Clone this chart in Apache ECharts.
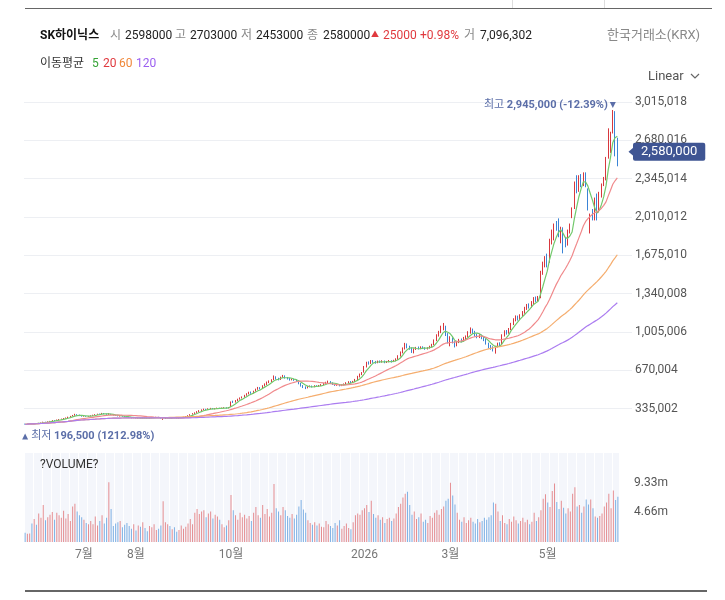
<!DOCTYPE html>
<html lang="ko">
<head>
<meta charset="utf-8">
<title>SK하이닉스</title>
<script src="https://cdn.jsdelivr.net/npm/echarts@6.0.0/dist/echarts.min.js"></script>
<style>
  html, body { margin: 0; padding: 0; background: #fff; }
  body { width: 725px; height: 600px; position: relative; overflow: hidden;
         font-family: Roboto, "Noto Sans CJK KR", sans-serif; }
  #chart { position: absolute; left: 0; top: 0; width: 725px; height: 600px; }
  .t { position: absolute; font-size: 12px; line-height: 18px; color: #222; white-space: nowrap; }
  .g { color: #888; }
  .b { font-weight: bold; color: #111; }
  .r { color: #e0393e; }
  .rule { position: absolute; background: #666; }
</style>
</head>
<body>
<div id="chart"></div>

<div class="rule" style="left:25px;top:8px;width:687px;height:1px"></div>
<div class="rule" style="left:512px;top:0;width:1px;height:8px;background:#ddd"></div>
<div class="rule" style="left:604px;top:0;width:1px;height:8px;background:#ddd"></div>
<div class="rule" style="left:25px;top:590px;width:682px;height:2px"></div>

<span class="t b" style="left:40px;top:26px">SK하이닉스</span>
<span class="t g" style="left:110px;top:26px">시</span><span class="t" style="left:125px;top:26px">2598000</span>
<span class="t g" style="left:175px;top:26px">고</span><span class="t" style="left:190px;top:26px">2703000</span>
<span class="t g" style="left:241px;top:26px">저</span><span class="t" style="left:256px;top:26px">2453000</span>
<span class="t g" style="left:307px;top:26px">종</span><span class="t" style="left:323px;top:26px">2580000</span>
<span class="t r" style="left:371px;top:26px;font-size:8px">▲</span>
<span class="t r" style="left:383px;top:26px">25000</span><span class="t r" style="left:420px;top:26px">+0.98%</span>
<span class="t g" style="left:464px;top:26px">거</span><span class="t" style="left:480px;top:26px">7,096,302</span>
<span class="t g" style="left:607px;top:26px;font-size:13px">한국거래소(KRX)</span>

<span class="t" style="left:40px;top:54px;color:#333">이동평균</span>
<span class="t" style="left:92px;top:54px;color:#35a335">5</span>
<span class="t" style="left:103px;top:54px;color:#e0393e">20</span>
<span class="t" style="left:119px;top:54px;color:#f0883a">60</span>
<span class="t" style="left:136px;top:54px;color:#9b5ff0">120</span>

<span class="t" style="left:648px;top:67px;color:#555;font-size:13px">Linear</span>
<svg style="position:absolute;left:690px;top:73px" width="10" height="7"><polyline points="1,1 5,5 9,1" fill="none" stroke="#666" stroke-width="1.2"/></svg>

<script>
// daily candles, thousand won: [open, close, low, high]
const candlesK = [
  // 2025-05
  [203,199,196.5,204],[199,201,197.5,203],[201,204,200,206],[204,202.5,201,206],[203,207,202,208],[207,206,204,209],[206,210,205.5,211],
  // 2025-06
  [210,213,208,214],[214,219,212,221],[219,217,215,221],[217,223,216,224],[223,226,221,228],[226,233,224,235],[233,231,228,236],[231,238,230,240],[238,242,235,244],[242,245,240,248],
  [245,251,243,253],[249,256,247,258],[256,262,253,265],[262,270,260,272],[270,276,267,280],[276,284,273,290],[284,279,276,287],[279,272,270,283],[272,268,265,275],
  // 2025-07
  [268,271,265,274],[271,266,264,273],[266,270,264,272],[270,274,268,277],[274,280,272,282],[280,284,277,287],[284,289,281,291],[289,287,284,292],[287,294,286,298],[294,290,287,297],
  [290,284,282,292],[284,289,281,295],[289,281,279,290],[281,278,275,284],[278,274,272,280],[274,270,267,277],[270,272,266,275],[272,267,265,274],[267,265,262,270],[265,262,259,268],
  [262,257,254,264],[257,253,250,259],[253,255,251,258],
  // 2025-08
  [255,251,249,257],[251,254,249,256],[254,252,250,256],[252,256,250,258],[256,253,251,258],[253,250,248,255],[250,254,249,256],[254,257,252,259],[257,259,255,262],[259,262,257,264],
  [262,258,256,264],[258,250,248,260],[242,247,237,251],[247,252,245,254],[252,255,250,257],[255,253,251,257],[253,256,251,258],[256,254,252,258],[254,252,250,256],[252,255,250,257],
  // 2025-09
  [255,258,253,260],[258,262,256,264],[262,268,260,270],[268,275,266,278],[275,285,273,287],[285,292,283,296],[292,300,289,303],[300,310,298,313],[310,318,306,322],[318,325,314,329],
  [325,330,321,335],[330,327,323,334],[327,334,325,338],[334,338,330,342],[338,333,330,341],[333,336,329,340],[336,340,333,344],[340,337,334,343],[337,341,334,345],[341,344,338,348],
  [344,340,336,347],[340,345,338,349],
  // 2025-10
  [350,395,348,398],[398,392,385,405],[392,405,388,410],[405,418,400,422],[418,428,414,433],[428,437,424,442],[437,452,432,456],[452,465,448,470],[465,478,460,483],[478,470,465,485],
  [470,488,468,492],[488,505,484,510],[505,518,500,525],[518,510,503,523],[510,535,508,540],[535,548,530,556],[548,565,542,572],[565,575,558,582],
  // 2025-11
  [575,585,568,592],[590,612,585,625],[612,598,590,618],[598,590,582,605],[590,610,586,615],[610,622,605,630],[622,605,598,626],[605,598,590,612],[598,588,580,603],[588,592,582,598],
  [592,585,578,596],[585,578,570,590],[578,555,548,582],[555,535,528,560],[535,525,515,541],[525,518,506,530],[518,528,512,533],[528,532,522,538],[532,526,520,537],[526,535,522,540],
  // 2025-12
  [535,530,525,540],[530,538,526,542],[538,545,533,550],[545,552,540,558],[552,565,548,570],[565,572,558,580],[572,560,555,576],[560,548,542,565],[548,540,534,552],[540,545,535,550],
  [545,536,530,549],[536,542,532,547],[542,550,538,555],[550,562,546,566],[562,570,556,575],[570,564,558,576],[564,572,560,578],[572,590,568,595],[590,615,586,622],[615,635,608,642],
  [635,648,628,655],
  // 2026-01
  [655,700,650,708],[700,738,695,745],[738,730,720,748],[730,752,726,760],[752,745,736,760],[745,738,728,752],[738,748,732,755],[748,742,735,756],[742,750,737,758],[750,740,732,756],
  [740,745,734,752],[745,752,740,760],[752,746,738,758],[746,755,742,762],[755,768,750,775],[768,795,762,802],[795,825,790,835],[825,860,818,870],[860,895,852,910],[895,872,862,905],
  [872,865,850,885],
  // 2026-02
  [865,845,822,870],[842,855,818,862],[855,868,848,875],[868,860,852,878],[860,872,855,880],[872,865,856,880],[865,858,850,872],[858,866,852,872],[866,878,860,885],[878,895,872,902],
  [895,930,890,940],[930,975,925,985],[975,1005,965,1015],[1005,1040,995,1060],[1040,1052,1020,1084],[1052,985,970,1060],[985,930,905,995],
  // 2026-03
  [920,950,880,968],[950,915,905,958],[915,890,870,925],[890,918,880,928],[918,935,908,945],[935,928,915,948],[928,952,920,962],[952,965,940,975],[965,1002,958,1012],[1002,1025,990,1045],
  [1025,1005,990,1035],[1005,980,965,1015],[980,962,950,990],[962,975,952,985],[975,955,942,982],[955,940,925,962],[940,905,895,948],[905,880,862,912],[880,872,850,892],[872,858,835,880],
  [858,878,816,884],
  // 2026-04
  [878,905,870,912],[905,890,880,915],[895,975,890,985],[975,1010,965,1020],[1010,995,982,1022],[995,1030,990,1040],[1030,1075,1022,1085],[1075,1110,1065,1125],[1110,1135,1098,1150],[1135,1120,1105,1148],
  [1120,1148,1110,1160],[1148,1175,1138,1188],[1175,1210,1165,1225],[1210,1238,1198,1250],[1238,1225,1210,1255],[1225,1262,1218,1275],[1262,1295,1250,1310],[1295,1282,1268,1315],[1282,1305,1275,1320],[1305,1520,1300,1540],
  [1520,1590,1505,1620],[1590,1650,1570,1668],
  // 2026-05
  [1650,1620,1570,1690],[1620,1800,1610,1820],[1800,1880,1770,1900],[1830,1945,1806,1953],[1945,1915,1890,1975],[1990,1840,1833,1998],[1800,1915,1780,1925],[1915,1720,1692,1920],[1820,1760,1745,1835],[1770,1880,1760,1900],
  [1880,1945,1866,1953],[2006,2090,2000,2094],[2090,2300,2080,2320],[2350,2260,2217,2375],[2260,2340,2230,2375],[2340,2300,2270,2385],[2300,2390,2280,2400],[2390,2290,2270,2400],
  // 2026-06
  [2240,2080,2067,2260],[1900,2030,1866,2040],[2030,2000,1980,2080],[2000,2050,1980,2180],[2120,2060,1980,2215],[2060,2200,2050,2230],[2200,2290,2180,2303],[2290,2340,2280,2360],[2340,2520,2330,2535],[2530,2770,2520,2785],
  [2620,2740,2570,2755],[2760,2930,2740,2945],[2920,2555,2540,2935],[2598,2580,2453,2703]
];

// daily volume, thousand shares
const volumeK = [
  1450,1300,1350,2900,3600,2700,4500,
  3800,5800,3400,3900,4300,4700,3500,4600,4200,3800,4900,3700,4400,3300,5600,6000,4800,4200,3900,
  3500,3000,2800,3300,2800,4000,2600,3300,4200,2900,3800,9400,5200,2500,2900,3100,3300,2300,2700,3000,2500,2100,2800,
  1800,2600,2400,3100,2200,1700,2500,2300,2800,1900,2100,2600,6400,3100,2800,2500,2000,2300,1600,1900,
  2600,2100,2400,2900,3600,2800,4600,5200,4400,4800,5000,3900,4500,4800,3700,4300,4000,3500,2800,2300,2600,3400,
  7400,5000,4200,3500,4600,3900,4300,3700,4100,3300,4600,5500,4200,3800,5800,4400,5200,4000,
  4600,9100,5300,4800,4200,5500,5000,4100,3800,4400,3700,4300,5600,6600,5100,4600,3400,3000,2700,3100,
  2600,2900,2400,2300,3300,2800,2500,2200,3000,2600,3400,2100,2500,2900,2200,2000,3100,4200,4500,4300,5000,
  5300,5800,4700,6500,4400,3800,4200,3500,3900,3000,3600,3800,3300,3700,4500,5500,6000,7000,7600,7900,5800,
  4300,4800,3600,3900,4500,3200,3500,3000,4100,3800,4600,5000,4300,5200,5600,6500,6800,
  9300,7300,5900,4600,3500,3200,3900,3000,3400,3800,3200,2900,3600,3100,3300,3800,3500,3900,4200,6200,6000,
  4800,3300,4200,3000,2800,3600,3200,4000,3400,2900,3300,3800,3100,3500,2800,3200,4600,3300,3900,5000,6800,7500,
  6200,5500,8000,9200,6300,5200,6500,5400,4500,5300,4800,7600,8600,5600,5800,4600,5600,6700,
  5900,6700,5300,4000,3800,4100,4500,5600,6200,7600,5300,8100,6600,7096.302
];

// KRX closed days inside the range
const holidays = ['2025-06-03','2025-06-06','2025-08-15','2025-10-03','2025-10-06','2025-10-07','2025-10-08','2025-10-09',
  '2025-12-25','2025-12-31','2026-01-01','2026-02-16','2026-02-17','2026-02-18','2026-03-02','2026-05-01','2026-05-05','2026-05-25','2026-06-03'];
const firstDay = '2025-05-22';

const xTickDates = ['2025-07-01','2025-08-01','2025-10-01','2026-01-02','2026-03-03','2026-05-04'];
const xTickLabels = ['7월','8월','10월','2026','3월','5월'];

const priceTicks = [335002, 670004, 1005006, 1340008, 1675010, 2010012, 2345014, 2680016, 3015018];
const volumeTicks = [4664000, 9328000, 13992000];
const maPeriods = [5, 20, 60, 120];
const maColors = ['#72c96c', '#f08a8c', '#f5ad6e', '#ab7cf0'];

const UP = '#d8383e', DOWN = '#3b84d6';
const VUP = '#e58d91', VDOWN = '#7fb1e4';
const FONT = 'Roboto, "Noto Sans CJK KR", sans-serif';

function tradingDays(start, count) {
  const out = [];
  const d = new Date(start + 'T00:00:00Z');
  while (out.length < count) {
    const s = d.toISOString().slice(0, 10);
    const wd = d.getUTCDay();
    if (wd !== 0 && wd !== 6 && holidays.indexOf(s) < 0) out.push(s);
    d.setUTCDate(d.getUTCDate() + 1);
  }
  return out;
}

const candles = candlesK.map(r => r.map(v => Math.round(v * 1000)));
const volumes = volumeK.map(v => Math.round(v * 1000));
const closes = candles.map(r => r[1]);
const lastClose = closes[closes.length - 1];
const dates = tradingDays(firstDay, candles.length);

function movingAverage(n) {
  return closes.map((_, i) => {
    const s = Math.max(0, i - n + 1);
    let sum = 0;
    for (let k = s; k <= i; k++) sum += closes[k];
    return Math.round(sum / (i - s + 1));
  });
}

const fmt = v => Math.round(v).toLocaleString('en-US');
const pct = v => ((lastClose - v) / v * 100).toFixed(2);

const chart = echarts.init(document.getElementById('chart'));

const option = {
  animation: false,
  textStyle: { fontFamily: FONT },
  grid: [
    { left: 24, top: 102, width: 608, height: 345 },
    { left: 24, top: 453, width: 595, height: 89, show: true, backgroundColor: '#f4f6fb', borderWidth: 0 }
  ],
  xAxis: [
    { type: 'category', gridIndex: 0, data: dates.concat(['', '', '', '', '', '']), show: false },
    {
      type: 'category', gridIndex: 1, data: dates,
      axisLine: { show: false }, axisTick: { show: false },
      axisLabel: {
        interval: (i, v) => xTickDates.indexOf(v) >= 0,
        formatter: v => xTickLabels[xTickDates.indexOf(v)] || '',
        color: '#777', fontSize: 12, margin: 7, fontFamily: FONT
      },
      splitLine: { show: true, interval: 3, lineStyle: { color: '#ffffff', width: 1 } }
    }
  ],
  yAxis: [
    {
      type: 'value', gridIndex: 0, position: 'right',
      min: 0, max: priceTicks[priceTicks.length - 1], interval: priceTicks[0],
      axisLine: { show: false }, axisTick: { show: false },
      axisLabel: { color: '#555', fontSize: 12, margin: 3, showMinLabel: false, fontFamily: FONT,
        formatter: v => priceTicks.indexOf(Math.round(v)) >= 0 ? fmt(v) : '' },
      splitLine: { lineStyle: { color: '#edeff3' }, showMinLine: false }
    },
    {
      type: 'value', gridIndex: 1, position: 'right',
      min: 0, max: volumeTicks[volumeTicks.length - 1], interval: volumeTicks[0],
      axisLine: { show: false }, axisTick: { show: false }, splitLine: { show: false },
      axisLabel: { color: '#555', fontSize: 12, margin: 15, fontFamily: FONT,
        formatter: v => (v > 0 && v < volumeTicks[volumeTicks.length - 1]) ? (v / 1e6).toFixed(2) + 'm' : '' }
    }
  ],
  graphic: [
    { type: 'text', left: 40, top: 459, z: 100, style: { text: '?VOLUME?', fill: '#333', font: '12px ' + FONT } }
  ],
  series: [
    {
      type: 'candlestick', name: 'price', xAxisIndex: 0, yAxisIndex: 0,
      data: candles, barWidth: 1,
      itemStyle: { color: UP, color0: DOWN, borderColor: UP, borderColor0: DOWN, borderWidth: 1 },
      markPoint: {
        symbol: 'triangle', symbolSize: 6, silent: true,
        itemStyle: { color: '#5b6ea8' },
        label: { color: '#5b6ea8', fontSize: 11, fontFamily: FONT,
          rich: { k: { color: '#5b6ea8', fontSize: 11 }, v: { color: '#5b6ea8', fontSize: 11, fontWeight: 'bold' } } },
        data: [
          { type: 'max', valueDim: 'highest', symbolRotate: 180, symbolOffset: [0, -5],
            label: { position: 'left', distance: 2, formatter: p => '{k|최고} {v|' + fmt(p.value) + ' (' + pct(p.value) + '%)}' } },
          { type: 'min', valueDim: 'lowest', symbolOffset: [0, 12],
            label: { position: 'right', distance: 3, formatter: p => '{k|최저} {v|' + fmt(p.value) + ' (' + pct(p.value) + '%)}' } }
        ]
      },
      markLine: {
        silent: true,
        symbol: ['none', 'path://M0,0 L10,0 L5,9 Z'], symbolSize: [12, 7],
        lineStyle: { width: 0, color: '#3f5593', type: 'solid' },
        label: { position: 'end', distance: 1, formatter: p => fmt(p.value), color: '#fff',
          backgroundColor: '#3f5593', padding: [3, 8, 2, 8], borderRadius: 2, fontSize: 13, fontFamily: FONT },
        data: [{ yAxis: lastClose }]
      }
    },
    ...maPeriods.map((n, k) => ({
      type: 'line', name: 'MA' + n, xAxisIndex: 0, yAxisIndex: 0,
      data: movingAverage(n), showSymbol: false, symbol: 'none', silent: true,
      lineStyle: { width: 1.2, color: maColors[k] }
    })),
    {
      type: 'bar', name: 'volume', xAxisIndex: 1, yAxisIndex: 1, barWidth: 1,
      data: volumes.map((v, i) => ({ value: v, itemStyle: { color: candles[i][1] >= candles[i][0] ? VUP : VDOWN } }))
    }
  ]
};

chart.setOption(option);
</script>
</body>
</html>
